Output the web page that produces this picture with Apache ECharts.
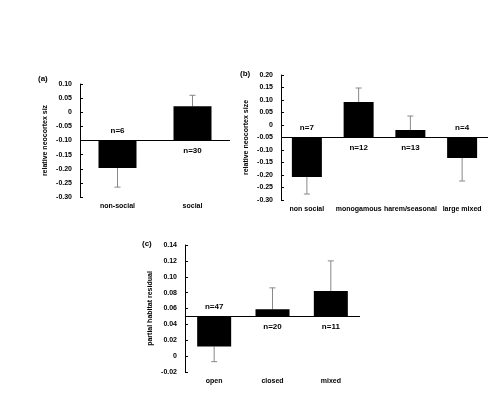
<!DOCTYPE html>
<html><head><meta charset="utf-8">
<script src="https://cdn.jsdelivr.net/npm/echarts@6/dist/echarts.min.js"></script>
<style>html,body{margin:0;background:#fff}#c{width:500px;height:403px}</style>
</head><body><div id="c"></div>
<script>
// panel data
var catsA = ['non-social', 'social'];
var valsA = [-0.197, 0.021];
var errA = [-0.265, 0.06];
var nA = ['n=6', 'n=30'];
var ticksA = [0.10, 0.05, 0, -0.05, -0.10, -0.15, -0.20, -0.25, -0.30];

var catsB = ['non social', 'monogamous', 'harem/seasonal', 'large mixed'];
var valsB = [-0.208, 0.092, -0.02, -0.132];
var errB = [-0.276, 0.148, 0.036, -0.224];
var nB = ['n=7', 'n=12', 'n=13', 'n=4'];

var catsC = ['open', 'closed', 'mixed'];
var valsC = [0.012, 0.059, 0.082];
var errC = [-0.007, 0.086, 0.12];
var nC = ['n=47', 'n=20', 'n=11'];

var chart = echarts.init(document.getElementById('c'));
var fnt = 'Liberation Sans';

function labelFmt(v) {
  if (v === 0) return '0';
  return v.toFixed(2);
}

function panel(idx, cats, vals, errs, ns, base, bw) {
  return {
    type: 'custom',
    xAxisIndex: idx, yAxisIndex: idx,
    data: vals.map(function (v, i) { return [i, v, errs[i]]; }),
    renderItem: function (params, api) {
      var i = api.value(0), v = api.value(1), e = api.value(2);
      var p0 = api.coord([i, base]), p1 = api.coord([i, v]), pe = api.coord([i, e]);
      var top = Math.min(p0[1], p1[1]);
      var up = v > base;
      return {
        type: 'group',
        children: [
          { type: 'line', shape: { x1: p1[0], y1: p1[1], x2: pe[0], y2: pe[1] }, style: { stroke: '#888', lineWidth: 1 } },
          { type: 'line', shape: { x1: pe[0] - 3, y1: pe[1], x2: pe[0] + 3, y2: pe[1] }, style: { stroke: '#888', lineWidth: 1 } },
          { type: 'rect', shape: { x: p0[0] - bw / 2, y: top, width: bw, height: Math.abs(p1[1] - p0[1]) }, style: { fill: '#000' } },
          { type: 'text', x: p0[0], y: up ? p0[1] + 6 : p0[1] - 6,
            style: { text: ns[i], fill: '#000', font: 'bold 8px ' + fnt, align: 'center', verticalAlign: up ? 'top' : 'bottom' } }
        ]
      };
    },
    markLine: {
      silent: true, symbol: 'none', label: { show: false },
      lineStyle: { color: '#000', width: 1, type: 'solid' },
      data: [{ yAxis: base }]
    },
    z: 3
  };
}

var grids = [
  { left: 80, top: 84, width: 150, height: 113 },
  { left: 281, top: 75, width: 207, height: 125 },
  { left: 185, top: 245, width: 175, height: 127 }
];

function xAx(i, cats) {
  return {
    type: 'category', gridIndex: i, data: cats, position: 'bottom',
    axisLine: { show: false }, axisTick: { show: false },
    axisLabel: { color: '#000', fontSize: 7, fontWeight: 'bold', fontFamily: fnt, margin: 6, interval: 0 }
  };
}
function yAx(i, min, max, step, name) {
  return {
    type: 'value', gridIndex: i, min: min, max: max, interval: step,
    name: name, nameLocation: 'middle', nameGap: 31,
    nameTextStyle: { color: '#000', fontSize: 7, fontWeight: 'bold', fontFamily: fnt },
    axisLine: { show: true, lineStyle: { color: '#000' } },
    axisTick: { show: true, length: 3, inside: true },
    splitLine: { show: false },
    axisLabel: { color: '#000', fontSize: 7, fontWeight: 'bold', fontFamily: fnt, formatter: labelFmt }
  };
}

chart.setOption({
  animation: false,
  backgroundColor: '#fff',
  grid: grids,
  xAxis: [xAx(0, catsA), xAx(1, catsB), xAx(2, catsC)],
  yAxis: [
    yAx(0, -0.30, 0.10, 0.05, 'relative neocortex siz'),
    yAx(1, -0.30, 0.20, 0.05, 'relative neocortex size'),
    yAx(2, -0.02, 0.14, 0.02, 'partial habitat residual')
  ],
  graphic: [
    { type: 'text', left: 38, top: 75, style: { text: '(a)', font: 'bold 8px ' + fnt, fill: '#000' } },
    { type: 'text', left: 240, top: 70, style: { text: '(b)', font: 'bold 8px ' + fnt, fill: '#000' } },
    { type: 'text', left: 142, top: 240, style: { text: '(c)', font: 'bold 8px ' + fnt, fill: '#000' } }
  ],
  series: [
    panel(0, catsA, valsA, errA, nA, -0.10, 38),
    panel(1, catsB, valsB, errB, nB, -0.05, 30),
    panel(2, catsC, valsC, errC, nC, 0.05, 34)
  ]
});
</script></body></html>
